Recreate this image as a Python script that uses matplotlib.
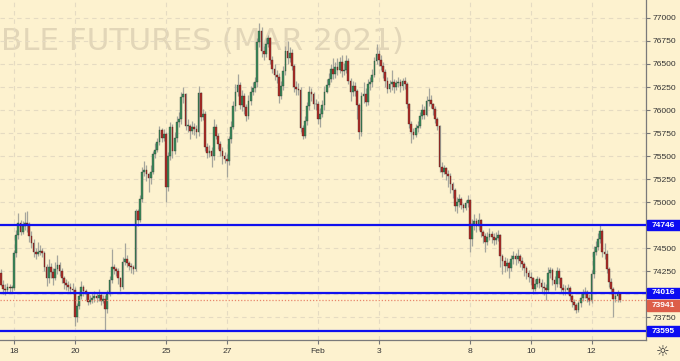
import matplotlib
matplotlib.use("Agg")
import matplotlib.pyplot as plt
import numpy as np
from matplotlib.patches import Rectangle
from matplotlib.transforms import blended_transform_factory

# hourly candles, 14 per session; the first 6 are the end of the Jan 15 session
first_open = 74230
n_before = 6
per_session = 14

closes = [
    74100, 74060, 74050, 74080, 74070, 74070,  # Jan 15
    74450, 74640, 74770, 74680, 74740, 74770, 74760, 74630, 74560, 74460, 74440, 74460, 74470, 74450,  # 18
    74300, 74170, 74300, 74240, 74180, 74270, 74320, 74250, 74170, 74120, 74100, 74080, 74060, 74050,  # 19
    73750, 73870, 73980, 74080, 74030, 74000, 73910, 73940, 73960, 73980, 73960, 73990, 73930, 73950,  # 20
    73840, 74000, 74150, 74300, 74270, 74250, 74170, 74080, 74350, 74380, 74340, 74310, 74290, 74270,  # 21
    74900, 74800, 75030, 75330, 75350, 75300, 75260, 75330, 75520, 75570, 75650, 75780, 75700, 75740,  # 22
    75160, 75500, 75820, 75560, 75700, 75870, 75900, 76140, 76170, 75830, 75830, 75770, 75820, 75790,  # 25
    75760, 76180, 75920, 75960, 75600, 75530, 75560, 75500, 75820, 75720, 75630, 75560, 75500, 75470,  # 26
    75450, 75680, 75820, 76040, 76200, 76270, 76050, 76150, 76030, 75930, 76100, 76200, 76240, 76300,  # 27
    76740, 76860, 76640, 76610, 76720, 76780, 76540, 76450, 76380, 76360, 76150, 76260, 76420, 76640,  # 28
    76560, 76620, 76480, 76250, 76230, 76220, 75800, 75720, 75880, 76040, 76200, 76170, 76060, 76070,  # 29
    75900, 75960, 76050, 76200, 76270, 76340, 76450, 76390, 76470, 76440, 76520, 76420, 76440, 76530,  # Feb 1
    76320, 76200, 76260, 76210, 76050, 75760, 76150, 76170, 76090, 76280, 76300, 76380, 76530, 76610,  # 2
    76540, 76480, 76410, 76320, 76230, 76280, 76300, 76250, 76290, 76300, 76260, 76310, 76280, 76060,  # 3
    75850, 75760, 75730, 75800, 75830, 75940, 76000, 75950, 76100, 76110, 76070, 76010, 75900, 75830,  # 4
    75380, 75330, 75370, 75300, 75280, 75200, 75130, 74960, 75000, 75030, 74970, 74940, 74990, 75020,  # 5
    74600, 74760, 74790, 74740, 74800, 74680, 74630, 74570, 74620, 74650, 74620, 74590, 74610, 74640,  # 8
    74410, 74360, 74310, 74340, 74280, 74380, 74410, 74380, 74410, 74360, 74330, 74280, 74230, 74190,  # 9
    74170, 74060, 74110, 74160, 74120, 74080, 74070, 74050, 74230, 74260, 74150, 74110, 74250, 74170,  # 10
    74070, 74050, 74040, 74070, 73980, 73920, 73880, 73830, 73900, 73960, 74000, 74020, 73960, 73930,  # 11
    74220, 74460, 74510, 74600, 74690, 74460, 74440, 74270, 74130, 74060, 73950, 73980, 74000, 73940,  # 12
]
highs = [
    74270, 74150, 74110, 74120, 74110, 74100,
    74480, 74700, 74880, 74800, 74790, 74890, 74900, 74780, 74690, 74600, 74500, 74570, 74530, 74500,
    74470, 74330, 74380, 74340, 74280, 74350, 74420, 74350, 74280, 74200, 74160, 74140, 74120, 74120,
    74080, 73900, 74010, 74140, 74100, 74060, 74020, 73990, 74010, 74030, 74010, 74060, 74010, 73990,
    73990, 74040, 74200, 74490, 74330, 74300, 74280, 74190, 74400, 74560, 74420, 74360, 74340, 74320,
    74930, 74920, 75080, 75380, 75450, 75400, 75320, 75400, 75560, 75640, 75700, 75830, 75800, 75790,
    75760, 75540, 75870, 75850, 75760, 75930, 75980, 76200, 76250, 76180, 75900, 75850, 75880, 75860,
    75840, 76260, 76200, 76010, 75990, 75640, 75620, 75600, 75900, 75850, 75750, 75660, 75600, 75540,
    75520, 75720, 75880, 76100, 76280, 76390, 76300, 76220, 76180, 76060, 76160, 76260, 76300, 76360,
    76780, 76940, 76900, 76700, 76780, 76810, 76790, 76590, 76500, 76440, 76400, 76320, 76480, 76690,
    76750, 76680, 76660, 76500, 76320, 76290, 76250, 75840, 75930, 76090, 76260, 76240, 76200, 76120,
    76100, 76020, 76110, 76260, 76340, 76400, 76500, 76560, 76520, 76560, 76580, 76600, 76510, 76600,
    76560, 76350, 76310, 76300, 76230, 76080, 76200, 76300, 76240, 76340, 76360, 76450, 76580, 76720,
    76650, 76600, 76520, 76450, 76360, 76330, 76440, 76340, 76330, 76360, 76340, 76350, 76360, 76300,
    76080, 75880, 75800, 75850, 75880, 75980, 76060, 76040, 76150, 76240, 76160, 76080, 76040, 75920,
    75840, 75430, 75400, 75380, 75350, 75320, 75220, 75150, 75060, 75090, 75060, 74990, 75020, 75080,
    75030, 74820, 74870, 74830, 74880, 74820, 74700, 74660, 74670, 74720, 74690, 74660, 74680, 74700,
    74650, 74440, 74400, 74390, 74360, 74430, 74470, 74450, 74490, 74440, 74400, 74350, 74310, 74260,
    74240, 74190, 74160, 74200, 74190, 74160, 74130, 74110, 74290, 74300, 74280, 74200, 74300, 74280,
    74190, 74110, 74100, 74110, 74090, 74000, 73950, 73900, 73930, 74010, 74060, 74080, 74050, 74000,
    74260, 74520, 74580, 74660, 74750, 74710, 74560, 74480, 74300, 74180, 74080, 74020, 74040, 74020,
]
lows = [
    74090, 74000, 73990, 74020, 74020, 74010,
    74040, 74400, 74600, 74640, 74650, 74700, 74680, 74570, 74500, 74400, 74380, 74410, 74420, 74400,
    74250, 74090, 74120, 74180, 74100, 74150, 74220, 74200, 74120, 74060, 74050, 74030, 74010, 74000,
    73650, 73700, 73840, 73950, 73980, 73940, 73880, 73890, 73900, 73920, 73910, 73930, 73880, 73900,
    73610, 73800, 73980, 74120, 74220, 74200, 74110, 74030, 74060, 74320, 74290, 74260, 74230, 74220,
    74250, 74740, 74780, 75000, 75280, 75230, 75110, 75200, 75300, 75480, 75540, 75620, 75650, 75660,
    75000, 75120, 75460, 75480, 75520, 75650, 75820, 75850, 76080, 75780, 75760, 75680, 75740, 75730,
    75700, 75720, 75880, 75890, 75560, 75480, 75490, 75380, 75460, 75680, 75580, 75500, 75410, 75420,
    75270, 75400, 75640, 75790, 75990, 76150, 76010, 75990, 75960, 75880, 75900, 76050, 76160, 76200,
    76250, 76680, 76580, 76540, 76580, 76680, 76500, 76400, 76330, 76290, 76080, 76120, 76220, 76380,
    76500, 76520, 76430, 76200, 76160, 76160, 75760, 75680, 75700, 75840, 76000, 76100, 76010, 76000,
    75850, 75820, 75920, 76000, 76180, 76250, 76300, 76340, 76350, 76380, 76400, 76360, 76380, 76400,
    76280, 76100, 76150, 76150, 75900, 75680, 75720, 76080, 76040, 76050, 76220, 76250, 76360, 76500,
    76480, 76440, 76350, 76250, 76180, 76200, 76220, 76190, 76220, 76250, 76200, 76220, 76230, 76020,
    75800, 75640, 75680, 75710, 75760, 75800, 75900, 75900, 75930, 76040, 76020, 75950, 75860, 75780,
    75330, 75270, 75300, 75240, 75160, 75100, 75040, 74900, 74880, 74950, 74920, 74890, 74910, 74950,
    74460, 74520, 74700, 74680, 74700, 74620, 74560, 74460, 74530, 74590, 74560, 74530, 74550, 74580,
    74300, 74220, 74240, 74250, 74180, 74250, 74330, 74320, 74340, 74300, 74260, 74200, 74160, 74130,
    74100, 74000, 74030, 74080, 74070, 74020, 73990, 73940, 74020, 74180, 74100, 74050, 74080, 74110,
    74020, 73990, 73990, 74000, 73940, 73860, 73830, 73790, 73810, 73860, 73930, 73960, 73920, 73880,
    73900, 74180, 74420, 74480, 74560, 74400, 74380, 74230, 74080, 74000, 73750, 73920, 73920, 73910,
]

day_labels = ['18', '20', '25', '27', 'Feb', '3', '8', '10', '12']
label_sessions = [0, 2, 5, 7, 10, 12, 15, 17, 19]
levels = [74746, 74016, 73595]
last_price = 73941

plt.rcParams['font.family'] = ['Liberation Sans', 'DejaVu Sans']

bg = '#fdf2cf'
W, H = 680, 361
fig = plt.figure(figsize=(W / 100, H / 100), dpi=100, facecolor=bg)
ax = fig.add_axes([0, 1 - 340 / H, 646 / W, 340 / H])
ax.set_facecolor(bg)

c = np.array(closes, dtype=float)
o = np.concatenate([[first_open], c[:-1]])
hi = np.maximum(np.array(highs, dtype=float), np.maximum(o, c))
lo = np.minimum(np.array(lows, dtype=float), np.minimum(o, c))
x = np.arange(len(c)) - n_before
up = c >= o

ax.vlines(x, lo, hi, color='#a5a59c', lw=0.9, zorder=2)
body = np.maximum(np.abs(c - o), 8)
ax.bar(x[up], body[up], bottom=o[up], width=0.8, color='#3b8c5c',
       edgecolor='#2c3d31', lw=0.25, zorder=3)
ax.bar(x[~up], body[~up], bottom=c[~up], width=0.8, color='#b02c26',
       edgecolor='#402222', lw=0.25, zorder=3)

ax.set_xlim(-6.45, 291.1)
ax.set_ylim(73502, 77195)

# watermark
wm = ax.text(1 / 646, 1 - 50 / 340, 'BLE FUTURES (MAR 2021)', transform=ax.transAxes,
             family='DejaVu Sans', fontsize=22, color='#e2d6b8', ha='left',
             va='baseline', zorder=0.5)
fig.canvas.draw()
wm.set_fontsize(22 * 402 / wm.get_window_extent().width)

# levels
for v in levels:
    ax.axhline(v, color='#1010ee', lw=1.6, zorder=4)
ax.axhline(last_price, color='#e8866a', lw=0.9, ls=(0, (1, 1.5)), zorder=4)

# grid / axes
ticks_y = np.arange(73750, 77001, 250)
ax.set_yticks(ticks_y)
ax.set_yticklabels(['' if t in (74000, 74750) else str(t) for t in ticks_y])
ax.set_xticks([s * per_session for s in label_sessions])
ax.set_xticklabels(day_labels)
ax.grid(True, color='#e5dbc2', ls=(0, (4, 3.5)), lw=0.8)
ax.set_axisbelow(True)
ax.yaxis.tick_right()
ax.tick_params(axis='y', which='both', length=3, pad=2, labelsize=6.1,
               colors='#777777', labelcolor='#333333', left=False, right=True)
ax.tick_params(axis='x', length=3, pad=3, labelsize=6.1, colors='#777777',
               labelcolor='#333333')
for s in ('top', 'left'):
    ax.spines[s].set_visible(False)
for s in ('right', 'bottom'):
    ax.spines[s].set_color('#7a7a7a')
    ax.spines[s].set_linewidth(0.9)

# price boxes on the right scale
bt = blended_transform_factory(ax.transAxes, ax.transData)
ppx = (77195 - 73502) / 340
for v in levels:
    ax.add_patch(Rectangle((1.0015, v - 5 * ppx), 34 / 646, 10 * ppx, transform=bt,
                           color='#0c0cf2', clip_on=False, zorder=6))
    ax.text(1 + 6 / 646, v, str(v), transform=bt, color='white', fontsize=6,
            fontweight='bold', ha='left', va='center', zorder=7, clip_on=False)
yb = last_price - 6 * ppx
ax.add_patch(Rectangle((1.0015, yb - 5.5 * ppx), 34 / 646, 11 * ppx, transform=bt,
                       color='#dd5e48', clip_on=False, zorder=6))
ax.text(1 + 6 / 646, yb, str(last_price), transform=bt, color='white', fontsize=6,
        fontweight='bold', ha='left', va='center', zorder=7, clip_on=False)

fig.text(663 / W, 1 - 352 / H, '\u263c', family='DejaVu Sans', fontsize=11,
         color='#333333', ha='center', va='center')

fig.savefig('out.png', dpi=100, facecolor=bg)
